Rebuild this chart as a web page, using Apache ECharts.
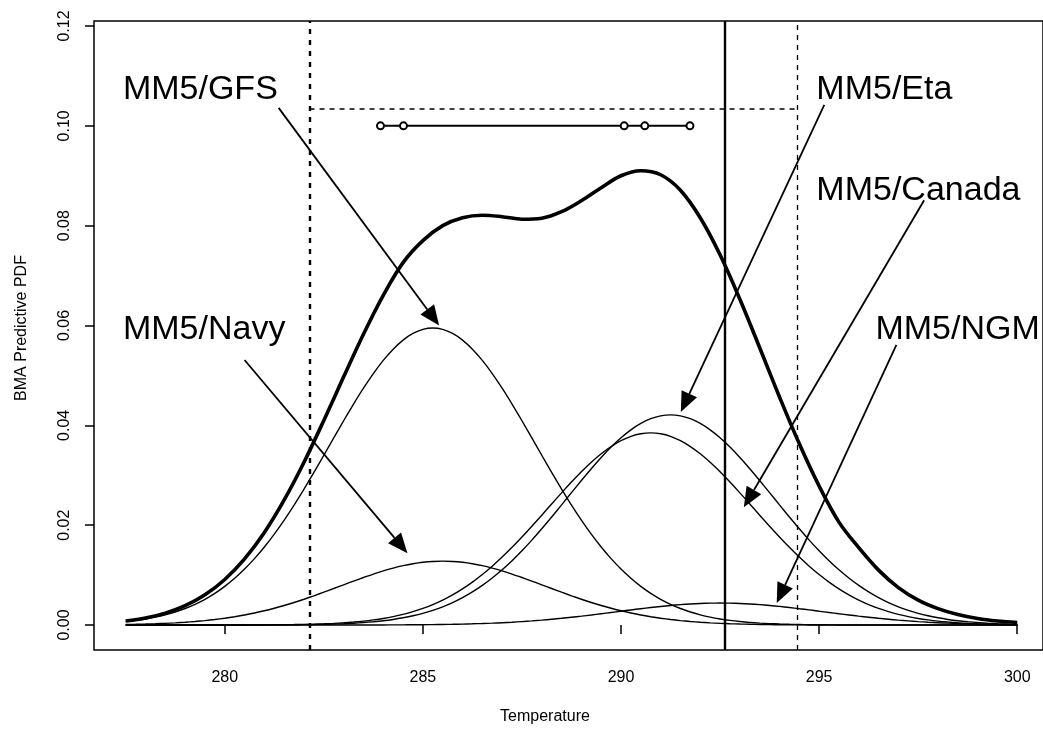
<!DOCTYPE html>
<html><head><meta charset="utf-8">
<script src="https://cdn.jsdelivr.net/npm/echarts@6/dist/echarts.min.js"></script>
<style>html,body{margin:0;padding:0;background:#fff}#c{width:1043px;height:731px}</style>
</head><body><div id="c"></div>
<script>
// ---- data ----
// fine temperature grid (0.25 K) for the five member densities
const tempsFine = [277.5,277.75,278,278.25,278.5,278.75,279,279.25,279.5,279.75,280,280.25,280.5,280.75,281,281.25,281.5,281.75,282,282.25,282.5,282.75,283,283.25,283.5,283.75,284,284.25,284.5,284.75,285,285.25,285.5,285.75,286,286.25,286.5,286.75,287,287.25,287.5,287.75,288,288.25,288.5,288.75,289,289.25,289.5,289.75,290,290.25,290.5,290.75,291,291.25,291.5,291.75,292,292.25,292.5,292.75,293,293.25,293.5,293.75,294,294.25,294.5,294.75,295,295.25,295.5,295.75,296,296.25,296.5,296.75,297,297.25,297.5,297.75,298,298.25,298.5,298.75,299,299.25,299.5,299.75,300];
const gfs = [0.00070,0.00093,0.00122,0.00159,0.00205,0.00261,0.00331,0.00415,0.00516,0.00635,0.00775,0.00937,0.01122,0.01331,0.01564,0.01822,0.02103,0.02404,0.02724,0.03058,0.03401,0.03748,0.04092,0.04426,0.04744,0.05038,0.05301,0.05526,0.05708,0.05841,0.05923,0.0595,
  0.05923,0.05841,0.05708,0.05526,0.05301,0.05038,0.04744,0.04426,0.04092,0.03748,0.03401,0.03058,0.02724,0.02404,0.02103,0.01822,0.01564,0.01331,0.01122,0.00937,0.00775,0.00635,0.00516,0.00415,0.00331,0.00261,0.00205,0.00159,0.00122,0.00093,0.00070,0.00052,0.00039,0.00029,0.00021,0.00015,0.00011,0.00007,0.00005,0.00004,0.00002,0.00002,0.00001,0.00001,0,0,0,0,0,0,0,0,0,0,0,0,0,0,0];
const navy = [0.00011,0.00015,0.00020,0.00026,0.00034,0.00044,0.00056,0.00071,0.00089,0.00111,0.00137,0.00167,0.00201,0.00241,0.00286,0.00337,0.00392,0.00452,0.00517,0.00586,0.00658,0.00732,0.00806,0.00880,0.00952,0.01021,0.01084,0.01140,0.01189,0.01228,0.01257,0.01274,0.0128,
  0.01274,0.01257,0.01228,0.01189,0.01140,0.01084,0.01021,0.00952,0.00880,0.00806,0.00732,0.00658,0.00586,0.00517,0.00452,0.00392,0.00337,0.00286,0.00241,0.00201,0.00167,0.00137,0.00111,0.00089,0.00071,0.00056,0.00044,0.00034,0.00026,0.00020,0.00015,0.00011,0.00008,0.00006,0.00004,0.00003,0.00002,0.00002,0.00001,0.00001,0,0,0,0,0,0,0,0,0,0,0,0,0,0,0,0,0,0];
const eta = [0,0,0,0,0,0.0000004,0.0000006,0.000001,0.0000016,0.0000024,0.0000036,0.0000055,0.000008,0.000012,0.000018,0.000026,0.000037,0.000053,0.000076,0.000105,0.000147,0.0002,0.00027,0.00037,0.0005,0.00066,0.00086,0.00112,0.00145,0.00185,0.00234,0.00294,0.00365,0.00449,0.00548,0.00663,0.00794,0.00942,0.01107,0.01289,0.01488,0.01701,0.01928,0.02164,0.02406,0.02652,0.02895,0.03132,0.03357,0.03565,0.03751,0.0391,0.04039,0.04133,0.04191,0.0421,
  0.04191,0.04133,0.04039,0.0391,0.03751,0.03565,0.03357,0.03132,0.02895,0.02652,0.02406,0.02164,0.01928,0.01701,0.01488,0.01289,0.01107,0.00942,0.00794,0.00663,0.00548,0.00449,0.00365,0.00294,0.00234,0.00185,0.00145,0.00112,0.00086,0.00066,0.0005,0.00037,0.00027,0.0002,0.00015];
const canada = [0,0,0,0.0000004,0.0000006,0.0000009,0.0000014,0.0000022,0.0000033,0.000005,0.0000073,0.000011,0.000016,0.000023,0.000034,0.000049,0.000069,0.000096,0.000135,0.000185,0.00025,0.00034,0.00045,0.0006,0.00079,0.00103,0.00132,0.00169,0.00214,0.00269,0.00334,0.00411,0.00501,0.00606,0.00726,0.00861,0.01012,0.01179,0.01361,0.01556,0.01763,0.01979,0.02201,0.02425,0.02648,0.02864,0.0307,0.0326,0.0343,0.03575,0.03693,0.0378,0.03832,0.0385,
  0.03832,0.0378,0.03693,0.03575,0.0343,0.0326,0.0307,0.02864,0.02648,0.02425,0.02201,0.01979,0.01763,0.01556,0.01361,0.01179,0.01012,0.00861,0.00726,0.00606,0.00501,0.00411,0.00334,0.00269,0.00214,0.00169,0.00132,0.00103,0.00079,0.0006,0.00045,0.00034,0.00025,0.000185,0.000135,0.000096,0.000069];
const ngm = [0,0,0,0,0,0,0,0,0,0,0,0,0,0,0,0,0,0,0.0000013,0.0000018,0.0000027,0.0000039,0.0000055,0.0000079,0.000011,0.000015,0.000021,0.000029,0.000039,0.000052,0.000069,0.00009,0.000117,0.000151,0.000193,0.000245,0.000307,0.000381,0.000469,0.000573,0.000693,0.000829,0.000984,0.001157,0.001347,0.001555,0.001778,0.002015,0.002262,0.002515,0.002772,0.003026,0.003273,0.003508,0.003725,0.00392,0.004086,0.004221,0.004319,0.00438,0.0044,
  0.00438,0.00432,0.00422,0.00409,0.00392,0.00373,0.00351,0.00327,0.00303,0.00277,0.00252,0.00226,0.00202,0.00178,0.00156,0.00135,0.00116,0.00098,0.00083,0.00069,0.00057,0.00047,0.00038,0.00031,0.00025,0.00019,0.00015,0.00012,0.00009,0.00007];
// coarser grid (0.5 K) for the BMA predictive density
const temps = [277.5,278,278.5,279,279.5,280,280.5,281,281.5,282,282.5,283,283.5,284,284.5,285,285.5,286,286.5,287,287.5,288,288.5,289,289.5,290,290.5,291,291.5,292,292.5,293,293.5,294,294.5,295,295.5,296,296.5,297,297.5,298,298.5,299,299.5,300];
const total = [0.00081,0.00142,0.00239,0.00387,0.00605,0.00913,0.01326,0.01855,0.02506,0.03262,0.04099,0.04972,0.05826,0.06605,0.0726,0.0770,0.0800,0.0816,0.0821,0.0818,0.0813,0.0815,0.0828,0.0850,0.0876,0.0900,0.0910,0.0902,0.0871,0.0816,0.07417,0.06527,0.05555,0.04569,0.0363,0.02784,0.02062,0.0155,0.0110,0.0075,0.0050,0.0033,0.0021,0.0013,0.0008,0.0005];
const forecastX = [283.93,284.51,290.08,290.60,291.74];
const forecastY = 0.10;
const xTicks = [280,285,290,295,300];
const yTicks = [0,0.02,0.04,0.06,0.08,0.10,0.12];
const intervalLo = 282.14, intervalHi = 294.46, observed = 292.62, intervalTop = 0.1034;
const labels = ['MM5/GFS','MM5/Navy','MM5/Eta','MM5/Canada','MM5/NGM'];
const labelPos = [[277.43,0.1072],[277.43,0.0591],[294.93,0.1072],[294.93,0.0871],[296.42,0.0591]];
const arrowFrom = [[281.36,0.1036],[280.50,0.0531],[295.13,0.1042],[297.65,0.0851],[296.95,0.0561]];
const arrowTo = [[285.41,0.0600],[284.61,0.0144],[291.51,0.0427],[293.10,0.0236],[293.93,0.0044]];

const FONT = '"Liberation Sans", Arial, Helvetica, sans-serif';
const chart = echarts.init(document.getElementById('c'), null, {renderer:'canvas'});
const pairs = (xs, ys) => xs.map((t,i)=>[t, ys[i]]);
const thin = (name, arr) => ({name, type:'line', data:pairs(tempsFine, arr), showSymbol:false, smooth:0.3,
  lineStyle:{color:'#000', width:1.4}, silent:true, z:3});

chart.setOption({
  animation:false,
  backgroundColor:'#fff',
  grid:{left:94, right:-2, top:21, bottom:81, show:true, borderColor:'#000', borderWidth:1.5, backgroundColor:'transparent'},
  xAxis:{type:'value', min:276.7, max:300.65,
    axisLine:{show:false}, splitLine:{show:false},
    axisTick:{show:true, customValues:xTicks, length:9, inside:false, lineStyle:{color:'#000', width:1.5}},
    axisLabel:{customValues:xTicks, margin:20, fontSize:16, color:'#000', fontFamily:FONT}},
  yAxis:{type:'value', min:-0.005, max:0.121,
    axisLine:{show:false}, splitLine:{show:false},
    axisTick:{show:true, customValues:yTicks, length:9, lineStyle:{color:'#000', width:1.5}},
    axisLabel:{customValues:yTicks, rotate:90, margin:21, fontSize:16, color:'#000', fontFamily:FONT,
      formatter:v=>v.toFixed(2)}},
  series:[
    thin('MM5/GFS', gfs), thin('MM5/Navy', navy), thin('MM5/Eta', eta), thin('MM5/Canada', canada), thin('MM5/NGM', ngm),
    {name:'BMA', type:'line', data:pairs(temps, total), showSymbol:false, smooth:0.35,
      lineStyle:{color:'#000', width:3.6}, silent:true, z:4,
      markLine:{silent:true, symbol:['none','none'], label:{show:false},
        data:[
          {xAxis:intervalLo, lineStyle:{color:'#000', width:2.4, type:[5,6]}},
          {xAxis:intervalHi, lineStyle:{color:'#000', width:1.3, type:[5,5]}},
          {xAxis:observed, lineStyle:{color:'#000', width:2.4, type:'solid'}},
          [{coord:[intervalLo, intervalTop], lineStyle:{color:'#000', width:1.5, type:[5,5]}},{coord:[intervalHi, intervalTop]}]
        ]}},
    {name:'forecasts', type:'line', data:forecastX.map(x=>[x, forecastY]), symbol:'emptyCircle', symbolSize:7, showSymbol:true,
      itemStyle:{color:'#000', borderColor:'#000', borderWidth:2}, lineStyle:{color:'#000', width:2}, silent:true, z:5}
  ]
});

function drawAnnotations(){
  const g = [];
  const P = p => chart.convertToPixel({gridIndex:0}, p);
  labels.forEach((t,i)=>{
    const p = P(labelPos[i]);
    g.push({type:'text', x:p[0], y:p[1], silent:true, z:10,
      style:{text:t, font:'34px '+FONT, fill:'#000', textAlign:'left', textVerticalAlign:'middle'}});
    const a = P(arrowFrom[i]), b = P(arrowTo[i]);
    const dx = b[0]-a[0], dy = b[1]-a[1], len = Math.hypot(dx,dy), ux = dx/len, uy = dy/len;
    const L = 20, W = 8.5;
    const bx = b[0]-ux*L, by = b[1]-uy*L;
    g.push({type:'line', silent:true, z:10, shape:{x1:a[0], y1:a[1], x2:bx, y2:by}, style:{stroke:'#000', lineWidth:1.8}});
    g.push({type:'polygon', silent:true, z:10, shape:{points:[[b[0],b[1]],[bx-uy*W, by+ux*W],[bx+uy*W, by-ux*W]]}, style:{fill:'#000'}});
  });
  g.push({type:'text', x:545, y:717, silent:true, style:{text:'Temperature', font:'16px '+FONT, fill:'#000', textAlign:'center', textVerticalAlign:'middle'}});
  g.push({type:'text', x:22, y:328, rotation:Math.PI/2, silent:true, style:{text:'BMA Predictive PDF', font:'16px '+FONT, fill:'#000', textAlign:'center', textVerticalAlign:'middle'}});
  chart.setOption({graphic:g});
}
drawAnnotations();
</script>
</body></html>
